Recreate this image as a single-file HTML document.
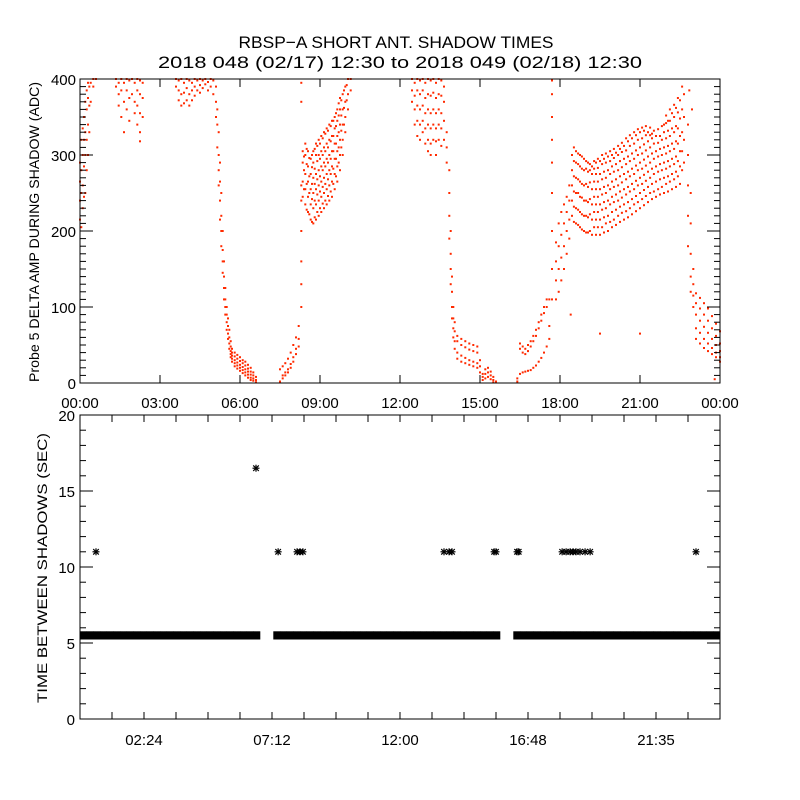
<!DOCTYPE html>
<html><head><meta charset="utf-8"><style>
html,body{margin:0;padding:0;background:#fff;}
svg{display:block;font-family:"Liberation Sans",sans-serif;}
</style></head><body>
<svg id="chart" width="800" height="800" viewBox="0 0 800 800" xmlns="http://www.w3.org/2000/svg">
<rect width="800" height="800" fill="#fff"/>
<text x="396" y="48" text-anchor="middle" font-size="17" textLength="315" lengthAdjust="spacingAndGlyphs">RBSP−A SHORT ANT. SHADOW TIMES</text>
<text x="400" y="68" text-anchor="middle" font-size="17" textLength="484" lengthAdjust="spacingAndGlyphs">2018 048 (02/17) 12:30 to 2018 049 (02/18) 12:30</text>
<g id="topPanel"></g>
<g id="botPanel"></g>
<text transform="translate(39,232) rotate(-90)" text-anchor="middle" font-size="14" textLength="300" lengthAdjust="spacingAndGlyphs">Probe 5 DELTA AMP DURING SHADOW (ADC)</text>
<text transform="translate(47,568) rotate(-90)" text-anchor="middle" font-size="14" textLength="270" lengthAdjust="spacingAndGlyphs">TIME BETWEEN SHADOWS (SEC)</text>
</svg>
<script>
// ---- top panel data: columns [hour, value, value, ...]
const ampRise1 = [[0.0,215,240,265,290],[0.05,205,250,280,320],[0.1,230,260,300,335],[0.15,245,285,320,350],[0.2,250,300,330,370],[0.25,280,320,360,385],[0.3,300,340,375,395],[0.35,330,365,390],[0.4,370,395],[0.5,390,400],[0.6,400]];
const ampHigh1 = [[1.35,400,390],[1.45,395,380,365],[1.55,400,385,350],[1.65,395,370,330],[1.75,400,385,360],[1.85,398,375,345],[1.95,400,380],[2.05,395,370,355],[2.15,400,385,365,340],[2.25,398,380,355,330,318],[2.35,395,375,350]];
const ampHigh2 = [[3.6,400,390],[3.7,398,385,372],[3.8,400,380,365],[3.9,395,382,368],[4.0,400,388,372],[4.1,398,380,365],[4.2,395,385,372],[4.3,400,390,378],[4.4,398,385],[4.5,400,392,382],[4.6,398,388],[4.7,400,393],[4.8,396,385],[4.9,400,390],[5.0,398,380]];
const ampFall1 = [[5.1,390,370,350],[5.15,360,340,310],[5.2,330,300,280,260],[5.25,290,265,240,215],[5.3,250,220,200,180],[5.35,200,175,160,145],[5.4,160,140,125,110],[5.45,125,110,100,90],[5.5,100,90,80,70],[5.55,85,75,65,58],[5.6,70,60,52,45],[5.65,55,48,42,38,34],[5.7,45,40,36,32,28],[5.8,40,35,30,26,22],[5.9,37,32,27,23,19],[6.0,34,29,24,20,16],[6.1,30,26,21,17,13],[6.2,28,23,18,14,10],[6.3,24,19,15,11,7],[6.4,20,15,11,7,4],[6.5,14,10,6,3],[6.6,8,4,1]];
const ampRise2 = [[7.5,2,18],[7.6,6,10,22],[7.7,10,14,26],[7.8,14,18,32],[7.9,20,25,40],[8.0,28,34,50],[8.1,38,45,60],[8.2,48,58,75],[8.3,100,130,160,200,240,260,370,395]];
const ampCloud1 = [[8.35,245,265,290,305],[8.45,235,255,275,300,315],[8.55,225,245,265,285,305],[8.65,215,235,255,275,295],[8.75,210,230,250,270,290,305],[8.85,215,235,255,275,300,315],[8.95,220,240,260,280,300,320],[9.05,225,245,265,285,305,325],[9.15,230,250,270,290,310,330],[9.25,235,255,275,295,315,335],[9.35,240,260,280,300,320,340],[9.45,245,265,285,305,325,345],[9.55,255,275,295,315,335,350],[9.65,265,285,305,325,345,360],[9.75,280,300,320,340,360,375],[9.85,300,320,340,360,380],[9.95,330,350,370,390],[10.05,360,380,400],[10.15,385,400]];
const ampCloud1b = [[8.4,255,280,298],[8.5,228,262,288,308],[8.6,222,250,272,296],[8.7,212,242,262,284,300],[8.8,218,240,262,282,308],[8.9,225,248,268,292,312],[9.0,230,252,272,295,315],[9.1,236,258,280,300,322],[9.2,240,262,285,305,328],[9.3,246,268,290,310,332],[9.4,252,275,295,318,338],[9.5,262,282,305,325,345],[9.6,272,295,315,338,355],[9.7,290,310,330,352,368],[9.8,310,332,352,372],[9.9,340,362,385],[10.0,372,392]];
const ampHigh3 = [[12.45,400,385,370],[12.55,395,378,360,340],[12.65,400,385,365,345,325],[12.75,398,380,360,340,320],[12.85,400,385,365,345,330],[12.95,395,375,355,335,315],[13.05,400,380,360,340,320,305],[13.15,398,378,355,335,315,300],[13.25,400,382,360,340,320],[13.35,395,375,355,335,318,300],[13.45,400,380,360,340,320],[13.55,398,378,355,335,312],[13.65,390,370,345,320],[13.75,330,310,290]];
const ampFall2 = [[13.85,280,250,220,190],[13.9,200,170,150,130],[13.95,140,120,100,85],[14.0,100,85,72,60],[14.05,80,68,55,45],[14.15,62,55,40,32],[14.3,58,50,36,28],[14.45,55,47,33,26],[14.6,52,44,30,24],[14.75,50,42,28,22],[14.9,48,40,26,20],[15.0,30,22,14],[15.1,12,8,4],[15.2,18,12,6],[15.3,20,14,8],[15.4,15,10,5],[15.5,8,4,1],[15.6,2]];
const ampRise3 = [[16.4,2,6],[16.5,12,45,52],[16.6,14,40,48],[16.7,15,38,45],[16.8,16,42,50],[16.9,17,48,55],[17.0,20,55,62],[17.1,23,62,70],[17.2,28,72,80],[17.3,33,82,90],[17.4,40,92,100],[17.5,48,100,110],[17.6,58,75,110],[17.7,110,150,200,250,290,320,350,380,398],[17.85,110,135,160,185],[17.95,120,150,180,210],[18.05,135,165,195,225],[18.15,150,180,210,235],[18.25,170,200,225,245],[18.35,190,215,240,260]];
const ampCloud2 = [[18.45,220,240,260,280,300],[18.6,210,230,250,270,290,305],[18.75,205,225,245,265,285,300],[18.9,200,220,240,260,280,295],[19.05,198,218,238,258,278,290],[19.2,195,215,235,255,275,285],[19.35,195,215,235,255,275,290],[19.5,195,215,235,255,275,292],[19.65,198,218,238,258,278,295],[19.8,200,220,240,260,280,298],[19.95,205,225,245,265,285,300],[20.1,208,228,248,268,288,303],[20.25,212,232,252,272,292,308],[20.4,215,235,255,275,295,312],[20.55,218,238,258,278,298,318],[20.7,222,242,262,282,302,322],[20.85,226,246,266,286,306,326],[21.0,230,250,270,290,310,330],[21.15,234,254,274,294,314,332],[21.3,238,258,278,298,318,330],[21.45,242,262,282,302,322,328],[21.6,245,265,285,305,325],[21.75,248,268,288,308,325],[21.9,250,270,290,310,330,340],[22.05,252,272,292,312,332,345],[22.2,255,275,295,315,335,355],[22.35,258,278,298,318,338,362],[22.5,262,285,305,325,348,372],[22.65,290,320,350,380]];
const ampCloud2b = [[18.52,212,232,252,272,292,310],[18.68,208,228,250,268,288,302],[18.82,202,222,244,262,282,298],[18.98,198,220,240,262,282,292],[19.12,200,222,242,264,280,288],[19.28,205,225,245,265,282,292],[19.42,205,225,245,265,283,295],[19.58,205,228,248,268,288,300],[19.72,210,230,250,270,290,302],[19.88,212,235,255,275,292,305],[20.02,215,238,258,278,296,308],[20.18,220,240,260,280,300,312],[20.32,224,244,264,284,304,316],[20.48,226,248,268,288,306,322],[20.62,230,252,272,292,312,326],[20.78,235,255,275,295,315,330],[20.92,238,260,280,300,320,334],[21.08,242,262,282,302,322,336],[21.22,246,266,286,306,326,338],[21.38,250,270,290,310,326,336],[21.52,252,275,295,315,332],[21.68,255,278,298,316,334],[21.82,258,280,300,320,338],[21.98,262,282,302,322,342,352],[22.12,265,285,305,325,345,360],[22.28,268,288,308,330,350,366],[22.42,272,292,315,335,356,375],[22.58,280,305,330,360,390]];
const ampFall3 = [[22.8,340,300,260,220,180],[22.85,385],[22.9,250,210,170,140,120],[22.95,360],[23.0,150,130,115,100],[23.1,118,105,90,72,58],[23.25,112,98,82,66,52],[23.4,105,90,74,58,46],[23.55,98,82,66,52,42],[23.7,88,72,58,46,38],[23.85,78,62,50,40,34],[24.0,68,52,42,34,28]];
const ampStray = [[18.4,90],[19.5,65],[21.0,65],[23.8,5]];
const topYTicks = [0,100,200,300,400];
const topXTicks = [0,3,6,9,12,15,18,21,24];
const topXLabels = ["00:00","03:00","06:00","09:00","12:00","15:00","18:00","21:00","00:00"];
// ---- bottom panel data
const bandStep = 0.25; // hours per band sample
const bandValues = [5.5,5.5,5.5,5.5,5.5,5.5,5.5,5.5,5.5,5.5,5.5,5.5,5.5,5.5,5.5,5.5,5.5,5.5,5.5,5.5,5.5,5.5,5.5,5.5,5.5,5.5,5.5,null,null,5.5,5.5,5.5,5.5,5.5,5.5,5.5,5.5,5.5,5.5,5.5,5.5,5.5,5.5,5.5,5.5,5.5,5.5,5.5,5.5,5.5,5.5,5.5,5.5,5.5,5.5,5.5,5.5,5.5,5.5,5.5,5.5,5.5,5.5,null,null,5.5,5.5,5.5,5.5,5.5,5.5,5.5,5.5,5.5,5.5,5.5,5.5,5.5,5.5,5.5,5.5,5.5,5.5,5.5,5.5,5.5,5.5,5.5,5.5,5.5,5.5,5.5,5.5,5.5,5.5,5.5];
const starTimes = [0.6,6.6,7.43,8.14,8.25,8.36,13.65,13.84,13.95,15.53,15.6,16.39,16.45,18.08,18.23,18.38,18.49,18.6,18.75,18.94,19.13,23.1];
const starValues = [11,16.5,11,11,11,11,11,11,11,11,11,11,11,11,11,11,11,11,11,11,11,11];
const botYTicks = [0,5,10,15,20];
const botXTicks = [2.4,7.2,12,16.8,21.6];
const botXLabels = ["02:24","07:12","12:00","16:48","21:35"];

const NS="http://www.w3.org/2000/svg";
const X0=80,X1=720;
const tx=h=>X0+h/24*(X1-X0);
const TY0=383,TY1=79;
const ty=v=>TY0-v/400*(TY0-TY1);
const BY0=719,BY1=415;
const by=v=>BY0-v/20*(BY0-BY1);
function mk(tag,attrs,parent){const e=document.createElementNS(NS,tag);for(const k in attrs)e.setAttribute(k,attrs[k]);parent.appendChild(e);return e;}
const topG=document.getElementById('topPanel'), botG=document.getElementById('botPanel');

// top points
const groups=[ampRise1,ampHigh1,ampHigh2,ampFall1,ampRise2,ampCloud1,ampCloud1b,ampHigh3,ampFall2,ampRise3,ampCloud2,ampCloud2b,ampFall3,ampStray];
groups.forEach(g=>g.forEach(col=>{
  for(let i=1;i<col.length;i++){
    const r=mk('rect',{x:(tx(col[0])-1).toFixed(1),y:(ty(col[i])-1).toFixed(1),width:2,height:2,fill:'#ff2a00'},topG);
    
    
  }
}));
// top axes
const tb=mk('rect',{x:X0,y:TY1,width:X1-X0,height:TY0-TY1,fill:'none',stroke:'#000','stroke-width':1},topG);


for(let v=0;v<=400;v+=10){
  const L=(v%100===0)?13:6;
  mk('line',{x1:X0,x2:X0+L,y1:ty(v),y2:ty(v),stroke:'#000'},topG);
  mk('line',{x1:X1,x2:X1-L,y1:ty(v),y2:ty(v),stroke:'#000'},topG);
}
topYTicks.forEach(v=>{const t=mk('text',{x:X0-4,y:ty(v)+6,'text-anchor':'end','font-size':15},topG);t.textContent=v;
  
  });
topXTicks.forEach((h,i)=>{
  mk('line',{x1:tx(h),x2:tx(h),y1:TY0,y2:TY0-8,stroke:'#000'},topG);
  mk('line',{x1:tx(h),x2:tx(h),y1:TY1,y2:TY1+8,stroke:'#000'},topG);
  const t=mk('text',{x:tx(h),y:408,'text-anchor':'middle','font-size':15},topG);t.textContent=topXLabels[i];
  
  
});
// bottom band
bandValues.forEach((v,i)=>{
  if(v===null)return;
  const r=mk('rect',{x:tx(i*bandStep).toFixed(1),y:by(v+0.27).toFixed(1),width:(tx(bandStep)-X0+0.3).toFixed(1),height:(by(v-0.27)-by(v+0.27)).toFixed(1),fill:'#000'},botG);
  
  
});
// stars
starTimes.forEach((h,i)=>{
  const cx=tx(h),cy=by(starValues[i]);
  const g=mk('g',{stroke:'#000','stroke-width':1.2},botG);
  
  
  mk('line',{x1:cx-3.5,x2:cx+3.5,y1:cy,y2:cy},g);
  mk('line',{x1:cx,x2:cx,y1:cy-3.5,y2:cy+3.5},g);
  mk('line',{x1:cx-2.8,x2:cx+2.8,y1:cy-2.8,y2:cy+2.8},g);
  mk('line',{x1:cx-2.8,x2:cx+2.8,y1:cy+2.8,y2:cy-2.8},g);
});
const bb=mk('rect',{x:X0,y:BY1,width:X1-X0,height:BY0-BY1,fill:'none',stroke:'#000','stroke-width':1},botG);


for(let v=0;v<=20;v+=1){
  const L=(v%5===0)?13:6;
  mk('line',{x1:X0,x2:X0+L,y1:by(v),y2:by(v),stroke:'#000'},botG);
  mk('line',{x1:X1,x2:X1-L,y1:by(v),y2:by(v),stroke:'#000'},botG);
}
botYTicks.forEach(v=>{const t=mk('text',{x:X0-5,y:by(v)+6,'text-anchor':'end','font-size':15},botG);t.textContent=v;
  
  });
for(let h=0;h<=24.01;h+=1.2){
  mk('line',{x1:tx(h),x2:tx(h),y1:BY0,y2:BY0-7,stroke:'#000'},botG);
  mk('line',{x1:tx(h),x2:tx(h),y1:BY1,y2:BY1+7,stroke:'#000'},botG);
}
botXTicks.forEach((h,i)=>{const t=mk('text',{x:tx(h),y:745,'text-anchor':'middle','font-size':15},botG);t.textContent=botXLabels[i];
  
  });
</script>
</body></html>
